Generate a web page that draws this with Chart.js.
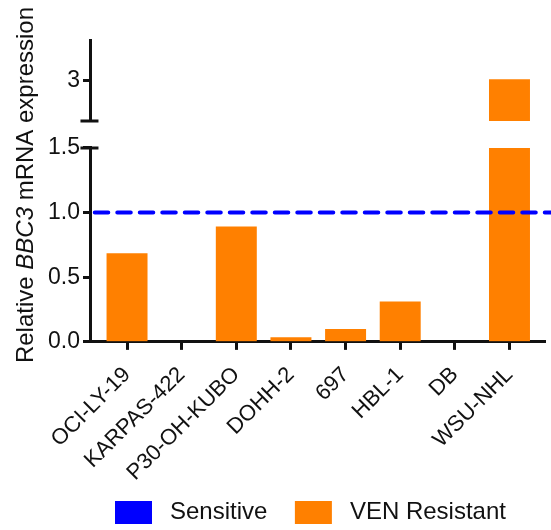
<!DOCTYPE html>
<html>
<head>
<meta charset="utf-8">
<script src="https://cdn.jsdelivr.net/npm/chart.js@4"></script>
<style>
  html,body{margin:0;padding:0;background:#fff;}
</style>
</head>
<body>
<canvas id="myChart" width="551" height="530"></canvas>
<script>
// values
let cellLines=["OCI-LY-19","KARPAS-422","P30-OH-KUBO","DOHH-2","697","HBL-1","DB","WSU-NHL"];
let resistant=[0.685,0,0.893,0.035,0.1,0.313,0,3.03];
let sensitive=1.0;
let lowTicks=[0,0.5,1.0,1.5];
let highTicks=[3];
let lowRange=[0,1.5];
let highRange=[2,4];

let xMin=-0.66, xMax=7.65;
let axisColor='#111';
let orange='#ff8000';
let blue='#0000ff';
let fontFamily='"Liberation Sans", Arial, sans-serif';

Chart.defaults.font.family=fontFamily;
Chart.defaults.color='#111';

// y title with italic gene name, break caps on the y axis, and the legend row
let extras={
    id:'extras',
    afterDraw(chart){
        const ctx=chart.ctx;
        const low=chart.scales.yLow, high=chart.scales.yHigh;
        const ax=low.right-1.5;
        ctx.save();
        ctx.strokeStyle=axisColor;
        ctx.lineWidth=3;
        ctx.beginPath();
        [low.getPixelForValue(lowRange[1]), high.getPixelForValue(highRange[0])].forEach((y)=>{
            ctx.moveTo(ax-9,y);
            ctx.lineTo(ax+9,y);
        });
        ctx.stroke();

        // legend
        ctx.textBaseline='middle';
        ctx.textAlign='left';
        ctx.font='24px '+fontFamily;
        let lx=115, ly=512.5;
        chart.data.datasets.slice(0,2).forEach((ds)=>{
            ctx.fillStyle=ds.backgroundColor;
            ctx.fillRect(lx,ly-11.5,37,23);
            ctx.fillStyle='#111';
            ctx.fillText(ds.label,lx+55,ly);
            lx+=55+ctx.measureText(ds.label).width+27.5;
        });

        // y title
        let parts=[["Relative ",false],["BBC3",true],[" mRNA expression",false]];
        let fontOf=(it)=>(it?'italic ':'')+'24px '+fontFamily;
        let total=0;
        parts.forEach((p)=>{ctx.font=fontOf(p[1]); total+=ctx.measureText(p[0]).width;});
        ctx.translate(33,185);
        ctx.rotate(-Math.PI/2);
        ctx.fillStyle='#111';
        ctx.textBaseline='alphabetic';
        let x=-total/2;
        parts.forEach((p)=>{
            ctx.font=fontOf(p[1]);
            ctx.fillText(p[0],x,0);
            x+=ctx.measureText(p[0]).width;
        });
        ctx.restore();
    }
};

let axisStyle={
    grid:{display:true,offset:false,drawOnChartArea:false,drawTicks:true,tickLength:8,tickWidth:3,tickColor:axisColor},
    border:{display:true,width:3,color:axisColor}
};

const ctx=document.getElementById('myChart').getContext('2d');
const myChart=new Chart(ctx,{
    data:{
        datasets:[{
            type:'line',
            label:'Sensitive',
            data:[{x:xMin,y:sensitive},{x:xMax+0.15,y:sensitive}],
            xAxisID:'x',
            yAxisID:'yLow',
            borderColor:blue,
            backgroundColor:blue,
            borderWidth:4,
            borderDash:[13.5,9],
            borderDashOffset:18.7,
            borderCapStyle:'round',
            pointRadius:0,
            clip:false
        },{
            type:'bar',
            label:'VEN Resistant',
            data:resistant.map((v,i)=>({x:i,y:v})),
            xAxisID:'x',
            yAxisID:'yLow',
            backgroundColor:orange,
            grouped:false,
            barPercentage:0.75,
            categoryPercentage:1
        },{
            type:'bar',
            label:'VEN Resistant (upper)',
            data:resistant.map((v,i)=>({x:i,y:v>lowRange[1]?v:null})),
            xAxisID:'x',
            yAxisID:'yHigh',
            base:highRange[0],
            backgroundColor:orange,
            grouped:false,
            barPercentage:0.75,
            categoryPercentage:1
        }]
    },
    options:{
        responsive:false,
        animation:false,
        layout:{padding:{left:45,top:40,right:6,bottom:32}},
        scales:{
            x:{
                type:'linear',
                offset:false,
                min:xMin,
                max:xMax,
                afterBuildTicks:(scale)=>{scale.ticks=cellLines.map((c,i)=>({value:i}));},
                ticks:{
                    callback:(v)=>cellLines[v],
                    autoSkip:false,
                    maxRotation:45,
                    minRotation:45,
                    padding:12,
                    font:{size:22}
                },
                ...axisStyle
            },
            yLow:{
                type:'linear',
                position:'left',
                stack:'y',
                stackWeight:193.2,
                min:lowRange[0],
                max:lowRange[1],
                afterBuildTicks:(scale)=>{scale.ticks=lowTicks.map((v)=>({value:v}));},
                ticks:{callback:(v)=>v.toFixed(1),font:{size:23},padding:3},
                ...axisStyle
            },
            yGap:{
                type:'linear',
                position:'left',
                stack:'y',
                stackWeight:26.8,
                min:0,
                max:1,
                ticks:{display:false},
                grid:{display:false,drawTicks:false},
                border:{display:false}
            },
            yHigh:{
                type:'linear',
                position:'left',
                stack:'y',
                stackWeight:80.7,
                min:highRange[0],
                max:highRange[1],
                afterBuildTicks:(scale)=>{scale.ticks=highTicks.map((v)=>({value:v}));},
                ticks:{callback:(v)=>String(v),font:{size:23},padding:3},
                ...axisStyle
            }
        },
        plugins:{
            tooltip:{enabled:false},
            legend:{display:false}
        }
    },
    plugins:[extras]
});
</script>
</body>
</html>
